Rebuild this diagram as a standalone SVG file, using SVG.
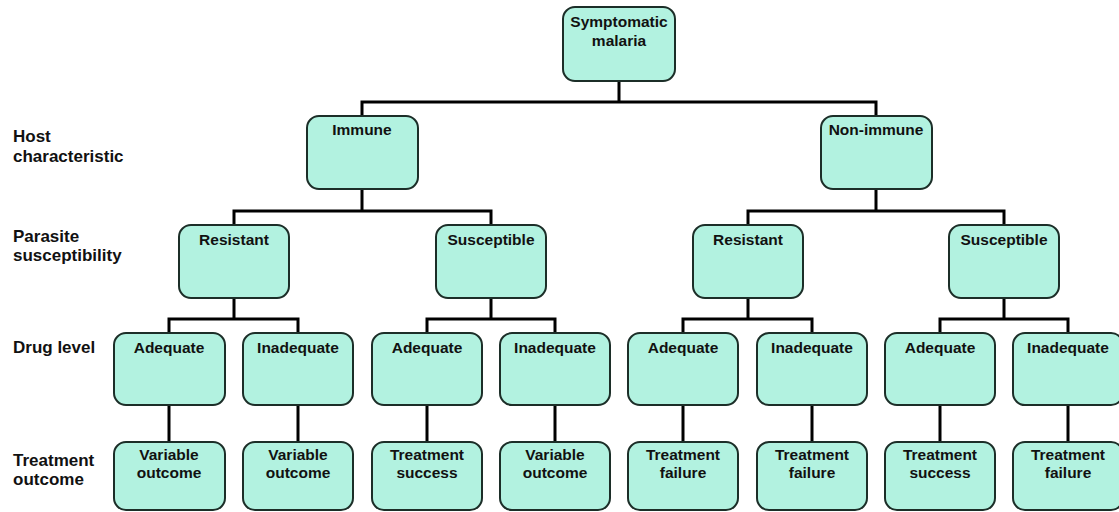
<svg xmlns="http://www.w3.org/2000/svg" width="1119" height="512" viewBox="0 0 1119 512">
<style>
.box{fill:#b2f2e0;stroke:#1c2e28;stroke-width:2}
.t{font-family:"Liberation Sans",Arial,sans-serif;font-weight:bold;font-size:15.5px;fill:#111;text-anchor:middle}
.lbl{font-family:"Liberation Sans",Arial,sans-serif;font-weight:bold;font-size:17px;fill:#111}
.c{fill:none;stroke:#000;stroke-width:3}
</style>
<rect width="1119" height="512" fill="#fff"/>
<g id="connectors">
<path class="c" d="M619 81V102M362 116V102H876V116"/>
<path class="c" d="M362 189V211M234 225V211H491V225"/>
<path class="c" d="M876 189V211M748 225V211H1004V225"/>
<path class="c" d="M234 298V319M169 333V319H298V333"/>
<path class="c" d="M491 298V319M427 333V319H555V333"/>
<path class="c" d="M748 298V319M683 333V319H812V333"/>
<path class="c" d="M1004 298V319M940 333V319H1068V333"/>
<path class="c" d="M169 405V442M298 405V442M427 405V442M555 405V442M683 405V442M812 405V442M940 405V442M1068 405V442"/>
</g>
<g id="labels">
<text class="lbl" x="13" y="142">Host</text>
<text class="lbl" x="13" y="161.5">characteristic</text>
<text class="lbl" x="13" y="242">Parasite</text>
<text class="lbl" x="13" y="261">susceptibility</text>
<text class="lbl" x="13" y="353">Drug level</text>
<text class="lbl" x="13" y="466">Treatment</text>
<text class="lbl" x="13" y="485">outcome</text>
</g>
<g id="n_root"><rect class="box" x="563" y="7" width="112" height="74" rx="12"/><text class="t" x="619" y="27">Symptomatic</text><text class="t" x="619" y="46">malaria</text></g>
<g id="n_immune"><rect class="box" x="307" y="116" width="111" height="73" rx="12"/><text class="t" x="362" y="135">Immune</text></g>
<g id="n_nonimmune"><rect class="box" x="821" y="116" width="111" height="73" rx="12"/><text class="t" x="876" y="135">Non-immune</text></g>
<g id="n_res1"><rect class="box" x="179" y="225" width="110" height="73" rx="12"/><text class="t" x="234" y="245">Resistant</text></g>
<g id="n_sus1"><rect class="box" x="436" y="225" width="110" height="73" rx="12"/><text class="t" x="491" y="245">Susceptible</text></g>
<g id="n_res2"><rect class="box" x="693" y="225" width="110" height="73" rx="12"/><text class="t" x="748" y="245">Resistant</text></g>
<g id="n_sus2"><rect class="box" x="949" y="225" width="110" height="73" rx="12"/><text class="t" x="1004" y="245">Susceptible</text></g>
<g id="n_d1"><rect class="box" x="114" y="333" width="111" height="72" rx="12"/><text class="t" x="169" y="353">Adequate</text></g>
<g id="n_d2"><rect class="box" x="243" y="333" width="110" height="72" rx="12"/><text class="t" x="298" y="353">Inadequate</text></g>
<g id="n_d3"><rect class="box" x="372" y="333" width="110" height="72" rx="12"/><text class="t" x="427" y="353">Adequate</text></g>
<g id="n_d4"><rect class="box" x="500" y="333" width="110" height="72" rx="12"/><text class="t" x="555" y="353">Inadequate</text></g>
<g id="n_d5"><rect class="box" x="628" y="333" width="110" height="72" rx="12"/><text class="t" x="683" y="353">Adequate</text></g>
<g id="n_d6"><rect class="box" x="757" y="333" width="110" height="72" rx="12"/><text class="t" x="812" y="353">Inadequate</text></g>
<g id="n_d7"><rect class="box" x="885" y="333" width="110" height="72" rx="12"/><text class="t" x="940" y="353">Adequate</text></g>
<g id="n_d8"><rect class="box" x="1013" y="333" width="110" height="72" rx="12"/><text class="t" x="1068" y="353">Inadequate</text></g>
<g id="n_o1"><rect class="box" x="114" y="442" width="111" height="68" rx="12"/><text class="t" x="169" y="460">Variable</text><text class="t" x="169" y="478">outcome</text></g>
<g id="n_o2"><rect class="box" x="243" y="442" width="110" height="68" rx="12"/><text class="t" x="298" y="460">Variable</text><text class="t" x="298" y="478">outcome</text></g>
<g id="n_o3"><rect class="box" x="372" y="442" width="110" height="68" rx="12"/><text class="t" x="427" y="460">Treatment</text><text class="t" x="427" y="478">success</text></g>
<g id="n_o4"><rect class="box" x="500" y="442" width="110" height="68" rx="12"/><text class="t" x="555" y="460">Variable</text><text class="t" x="555" y="478">outcome</text></g>
<g id="n_o5"><rect class="box" x="628" y="442" width="110" height="68" rx="12"/><text class="t" x="683" y="460">Treatment</text><text class="t" x="683" y="478">failure</text></g>
<g id="n_o6"><rect class="box" x="757" y="442" width="110" height="68" rx="12"/><text class="t" x="812" y="460">Treatment</text><text class="t" x="812" y="478">failure</text></g>
<g id="n_o7"><rect class="box" x="885" y="442" width="110" height="68" rx="12"/><text class="t" x="940" y="460">Treatment</text><text class="t" x="940" y="478">success</text></g>
<g id="n_o8"><rect class="box" x="1013" y="442" width="110" height="68" rx="12"/><text class="t" x="1068" y="460">Treatment</text><text class="t" x="1068" y="478">failure</text></g>
</svg>
